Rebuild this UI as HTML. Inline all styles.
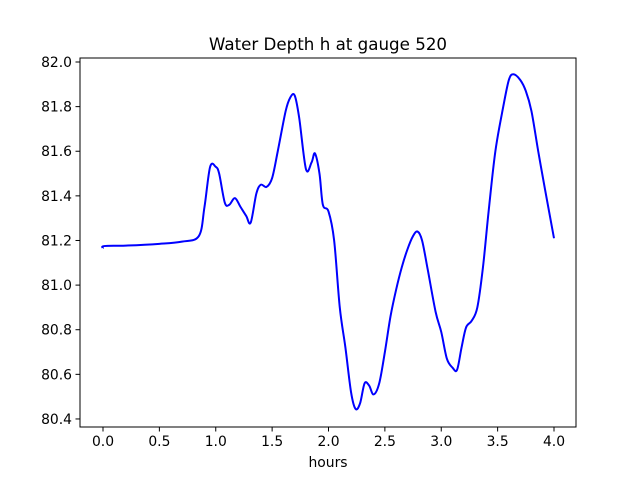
<!DOCTYPE html>
<html><head><meta charset="utf-8"><style>
body{margin:0;background:#fff}
svg text{font-family:"DejaVu Sans","Liberation Sans",sans-serif;fill:#000}
</style></head><body>
<svg id="chart" width="640" height="480" xmlns="http://www.w3.org/2000/svg">
<rect width="640" height="480" fill="#fff"/>
<text x="328" y="50" font-size="16.7" text-anchor="middle">Water Depth h at gauge 520</text>
<g id="plot"></g>
<rect x="80" y="58" width="496" height="369" fill="none" stroke="#000" stroke-width="1"/>
<text x="328" y="467" font-size="13.9" text-anchor="middle">hours</text>
</svg>
<script>
const times=[0,0.01,0.2,0.5,0.7,0.85,0.9,0.95,1.0,1.03,1.08,1.12,1.17,1.22,1.27,1.31,1.36,1.4,1.45,1.5,1.55,1.62,1.66,1.7,1.74,1.8,1.85,1.88,1.92,1.95,2.0,2.05,2.1,2.15,2.2,2.24,2.28,2.32,2.36,2.4,2.45,2.5,2.55,2.6,2.65,2.7,2.75,2.79,2.83,2.88,2.95,3.0,3.05,3.1,3.14,3.18,3.22,3.27,3.32,3.37,3.42,3.48,3.55,3.6,3.64,3.7,3.75,3.8,3.86,3.92,4.0];
const depth=[81.165,81.175,81.177,81.185,81.195,81.22,81.35,81.53,81.53,81.5,81.37,81.36,81.39,81.35,81.31,81.28,81.41,81.45,81.44,81.48,81.6,81.78,81.84,81.85,81.75,81.52,81.55,81.59,81.5,81.36,81.33,81.2,80.9,80.72,80.52,80.445,80.47,80.56,80.55,80.51,80.56,80.7,80.86,80.98,81.08,81.16,81.22,81.24,81.2,81.07,80.88,80.79,80.67,80.63,80.62,80.72,80.81,80.84,80.9,81.08,81.33,81.6,81.8,81.92,81.945,81.92,81.87,81.78,81.6,81.43,81.21];
const xTicks=[0,0.5,1,1.5,2,2.5,3,3.5,4];
const xTickLabels=["0.0","0.5","1.0","1.5","2.0","2.5","3.0","3.5","4.0"];
const yTicks=[80.4,80.6,80.8,81.0,81.2,81.4,81.6,81.8,82.0];
const yTickLabels=["80.4","80.6","80.8","81.0","81.2","81.4","81.6","81.8","82.0"];
const xs=t=>103+t*112.75;
const ys=v=>62+(82.0-v)*223.1;
const NS="http://www.w3.org/2000/svg";
const g=document.getElementById('plot');
function mk(tag,attrs){const e=document.createElementNS(NS,tag);for(const k in attrs)e.setAttribute(k,attrs[k]);g.appendChild(e);return e;}
xTicks.forEach((t,i)=>{
 const l=mk('line',{x1:xs(t),x2:xs(t),y1:427,y2:431.5,stroke:'#000'});
 
 
 const tx=mk('text',{x:xs(t),y:446,'font-size':13.9,'text-anchor':'middle'});
 
 
 tx.textContent=xTickLabels[i];
});
yTicks.forEach((v,i)=>{
 const l=mk('line',{x1:75.5,x2:80,y1:ys(v),y2:ys(v),stroke:'#000'});
 
 
 const tx=mk('text',{x:72,y:ys(v)+5,'font-size':13.9,'text-anchor':'end'});
 
 
 tx.textContent=yTickLabels[i];
});
const P=times.map((t,i)=>[xs(t),ys(depth[i])]);
let d='M'+P[0][0]+','+P[0][1];
for(let i=0;i<P.length-1;i++){
 const p0=P[i-1]||P[i],p1=P[i],p2=P[i+1],p3=P[i+2]||P[i+1];
 const c1=[p1[0]+(p2[0]-p0[0])/6,p1[1]+(p2[1]-p0[1])/6];
 const c2=[p2[0]-(p3[0]-p1[0])/6,p2[1]-(p3[1]-p1[1])/6];
 d+=' C'+c1[0]+','+c1[1]+' '+c2[0]+','+c2[1]+' '+p2[0]+','+p2[1];
}
const line=mk('path',{d:d,fill:'none',stroke:'#0000ff','stroke-width':2});


</script>
</body></html>
